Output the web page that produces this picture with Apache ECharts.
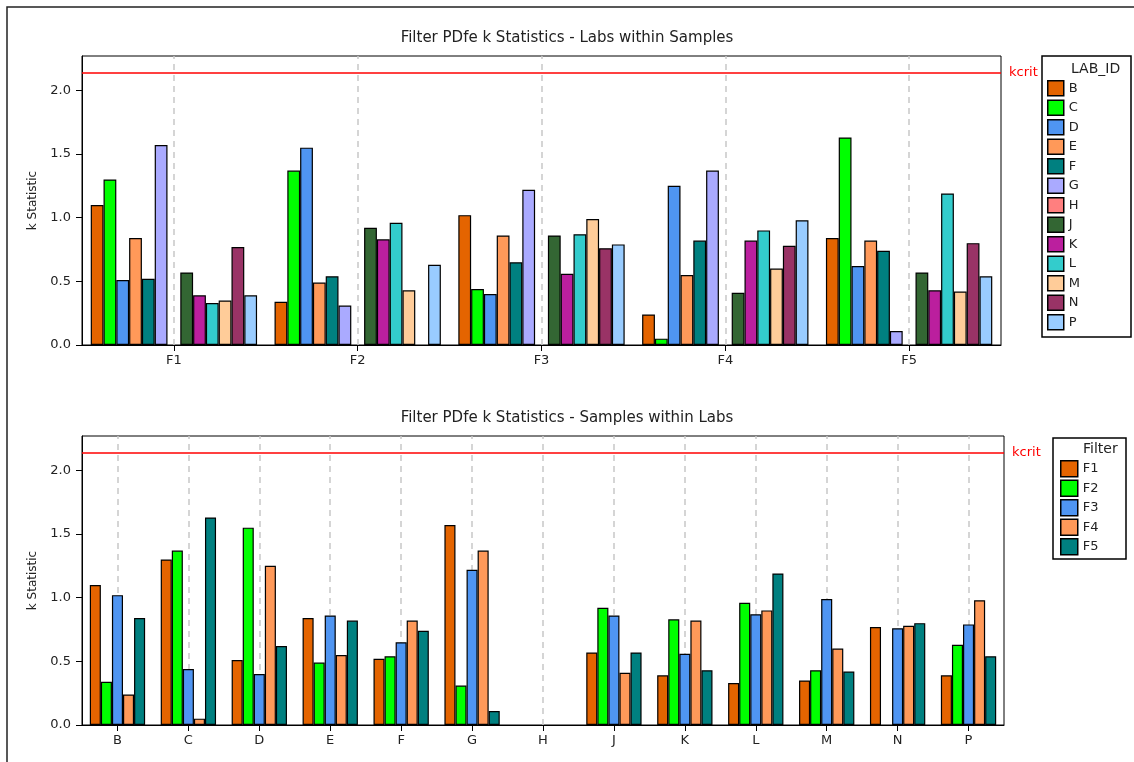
<!DOCTYPE html>
<html>
<head>
<meta charset="utf-8">
<script src="https://cdn.jsdelivr.net/npm/echarts@6/dist/echarts.min.js"></script>
<style>
html,body{margin:0;padding:0;background:#fff;}
#chart{width:1134px;height:762px;}
</style>
</head>
<body>
<div id="chart"></div>
<script>
// ---- data ----
const labs = ['B','C','D','E','F','G','H','J','K','L','M','N','P'];
const filters = ['F1','F2','F3','F4','F5'];
// k statistic per filter, in lab order
const kF1 = [1.10, 1.30, 0.51, 0.84, 0.52, 1.57, null, 0.57, 0.39, 0.33, 0.35, 0.77, 0.39];
const kF2 = [0.34, 1.37, 1.55, 0.49, 0.54, 0.31, null, 0.92, 0.83, 0.96, 0.43, null, 0.63];
const kF3 = [1.02, 0.44, 0.40, 0.86, 0.65, 1.22, null, 0.86, 0.56, 0.87, 0.99, 0.76, 0.79];
const kF4 = [0.24, 0.05, 1.25, 0.55, 0.82, 1.37, null, 0.41, 0.82, 0.90, 0.60, 0.78, 0.98];
const kF5 = [0.84, 1.63, 0.62, 0.82, 0.74, 0.11, null, 0.57, 0.43, 1.19, 0.42, 0.80, 0.54];
const kcrit = 2.14;
const yMax = 2.27;
const yTicks = [0, 0.5, 1.0, 1.5, 2.0];
const labColors = ['#E46400','#00FF00','#4F95F2','#FF9959','#008080','#AAAAFF','#FF7F7F',
                   '#336633','#BB1F9E','#33CCCC','#FFCC99','#993366','#99CCFF'];
const filterColors = ['#E46400','#00FF00','#4F95F2','#FF9959','#008080'];
const topTitle = 'Filter PDfe k Statistics - Labs within Samples';
const bottomTitle = 'Filter PDfe k Statistics - Samples within Labs';

// ---- build ----
const byFilter = [kF1, kF2, kF3, kF4, kF5];
const FONT = 'DejaVu Sans';
const chart = echarts.init(document.getElementById('chart'), null, {renderer: 'canvas'});

function yAxisFor(gi) {
  return {
    type: 'value', gridIndex: gi, min: 0, max: yMax,
    name: 'k Statistic', nameLocation: 'middle', nameGap: 43,
    nameTextStyle: {fontFamily: FONT, fontSize: 12, color: '#222'},
    axisLine: {show: true, lineStyle: {color: '#000', width: 1}},
    axisTick: {show: true, length: 6, lineStyle: {color: '#000'}, customValues: yTicks},
    axisLabel: {fontFamily: FONT, fontSize: 13, color: '#222', margin: 11,
      customValues: yTicks, formatter: v => Number(v).toFixed(1)},
    splitLine: {show: false}
  };
}
function xAxisFor(gi, cats) {
  return {
    type: 'category', gridIndex: gi, data: cats,
    axisLine: {show: true, lineStyle: {color: '#000', width: 1}},
    axisTick: {show: true, alignWithLabel: true, length: 6, lineStyle: {color: '#000'}},
    axisLabel: {fontFamily: FONT, fontSize: 13, color: '#222', margin: 9},
    splitLine: {show: false}
  };
}
function guideSeries(gi, cats) {
  const data = cats.map(c => ({xAxis: c}));
  data.push({yAxis: kcrit,
    lineStyle: {color: '#FF0000', type: 'solid', width: 1.5},
    label: {show: true, position: 'end', formatter: 'kcrit', color: '#FF0000',
            fontFamily: FONT, fontSize: 13, distance: 8}});
  return {
    name: 'guide' + gi, type: 'line', xAxisIndex: gi, yAxisIndex: gi,
    data: cats.map(() => null), showSymbol: false, z: 1,
    markLine: {
      silent: true, z: 1, symbol: ['none', 'none'],
      lineStyle: {color: '#c8c8c8', type: [6, 5], width: 1.5},
      label: {show: false},
      data: data
    }
  };
}

const series = [];
labs.forEach((lab, li) => {
  series.push({
    name: lab, type: 'bar', xAxisIndex: 0, yAxisIndex: 0,
    data: byFilter.map(arr => arr[li]),
    barGap: '0%', barCategoryGap: '9.5%',
    itemStyle: {color: labColors[li], borderColor: '#000', borderWidth: 1.2},
    z: 2
  });
});
filters.forEach((f, fi) => {
  series.push({
    name: f, type: 'bar', xAxisIndex: 1, yAxisIndex: 1,
    data: byFilter[fi].slice(),
    barGap: '0%', barCategoryGap: '22%',
    itemStyle: {color: filterColors[fi], borderColor: '#000', borderWidth: 1.2},
    z: 2
  });
});
series.push(guideSeries(0, filters));
series.push(guideSeries(1, labs));

const option = {
  animation: false,
  backgroundColor: '#fff',
  textStyle: {fontFamily: FONT},
  title: [
    {text: topTitle, left: 567, top: 31, textAlign: 'center', padding: 0,
     textStyle: {fontFamily: FONT, fontSize: 15, fontWeight: 'normal', color: '#222'}},
    {text: bottomTitle, left: 567, top: 411, textAlign: 'center', padding: 0,
     textStyle: {fontFamily: FONT, fontSize: 15, fontWeight: 'normal', color: '#222'}},
    {text: 'LAB_ID', left: 1071, top: 62, padding: 0,
     textStyle: {fontFamily: FONT, fontSize: 14, fontWeight: 'normal', color: '#222'}},
    {text: 'Filter', left: 1083, top: 442, padding: 0,
     textStyle: {fontFamily: FONT, fontSize: 14, fontWeight: 'normal', color: '#222'}}
  ],
  grid: [
    {left: 82, top: 56, width: 919, height: 289, show: true, borderColor: '#000', borderWidth: 1, backgroundColor: 'transparent'},
    {left: 82, top: 436, width: 922, height: 289, show: true, borderColor: '#000', borderWidth: 1, backgroundColor: 'transparent'}
  ],
  xAxis: [xAxisFor(0, filters), xAxisFor(1, labs)],
  yAxis: [yAxisFor(0), yAxisFor(1)],
  legend: [
    {data: labs, orient: 'vertical', left: 1047, top: 80, padding: 0,
     itemWidth: 16, itemHeight: 15, itemGap: 3, icon: 'rect',
     itemStyle: {borderColor: '#000', borderWidth: 1.5},
     textStyle: {fontFamily: FONT, fontSize: 13, color: '#222'}, selectedMode: false},
    {data: filters, orient: 'vertical', left: 1060, top: 460, padding: 0,
     itemWidth: 17, itemHeight: 16, itemGap: 2, icon: 'rect',
     itemStyle: {borderColor: '#000', borderWidth: 1.5},
     textStyle: {fontFamily: FONT, fontSize: 13, color: '#222'}, selectedMode: false}
  ],
  graphic: [
    {type: 'rect', shape: {x: 7, y: 7, width: 1200, height: 800},
     style: {fill: 'none', stroke: '#222', lineWidth: 1.5}, silent: true},
    {type: 'rect', shape: {x: 1042, y: 56, width: 89, height: 281},
     style: {fill: 'none', stroke: '#000', lineWidth: 1.5}, silent: true},
    {type: 'rect', shape: {x: 1053, y: 438, width: 73, height: 121},
     style: {fill: 'none', stroke: '#000', lineWidth: 1.5}, silent: true}
  ],
  series: series
};
chart.setOption(option);
</script>
</body>
</html>
